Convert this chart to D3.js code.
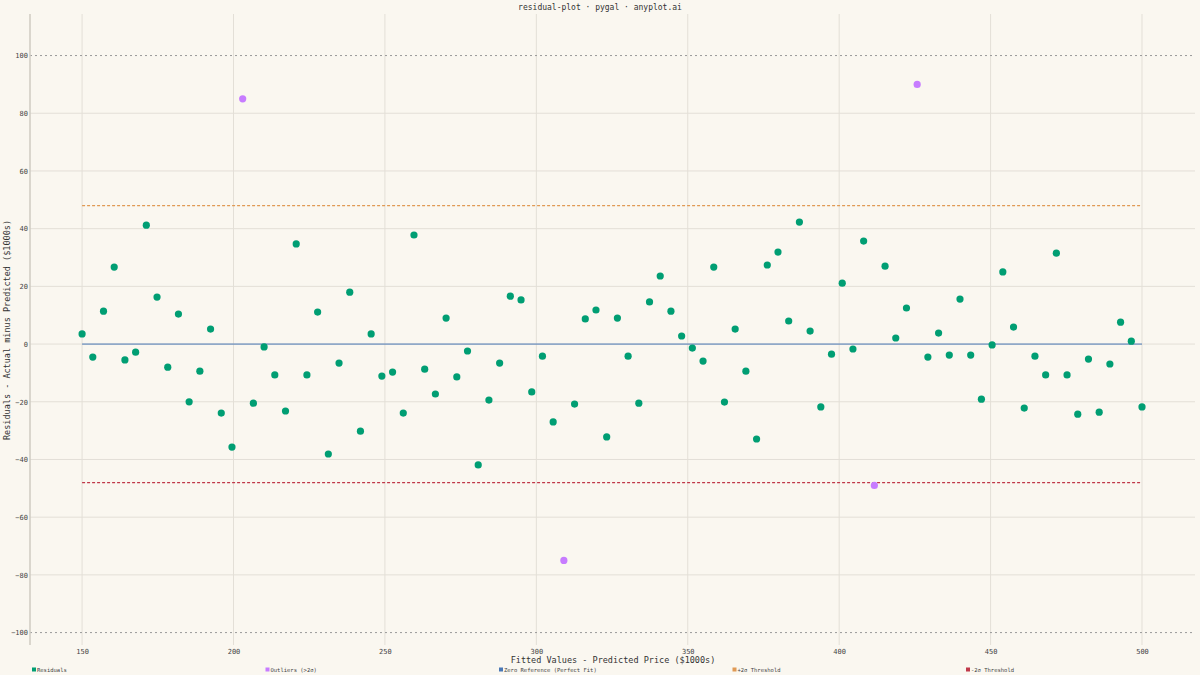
<!DOCTYPE html><html><head><meta charset="utf-8">
<script src="https://cdn.jsdelivr.net/npm/d3@7"></script>
<style>body{margin:0;background:#FAF7F0}text{font-family:"DejaVu Sans Mono",monospace}</style></head><body>
<svg id="c" width="1200" height="675"></svg>
<script>
const residuals=[3.5,-4.5,11.4,26.7,-5.5,-2.8,41.2,16.3,-8,10.4,-20,-9.4,5.2,-23.9,-35.7,null,-20.5,-1.0,-10.7,-23.2,
34.7,-10.7,11.1,-38.1,-6.6,18,-30.2,3.5,-11.1,-9.7,-23.9,37.8,-8.7,-17.3,9.0,-11.4,-2.4,-41.9,-19.4,-6.6,
16.6,15.3,-16.6,-4.2,-27,null,-20.8,8.7,11.8,-32.2,9.0,-4.2,-20.5,14.6,23.6,11.4,2.8,-1.4,-5.9,26.7,
-20.1,5.2,-9.4,-32.9,27.4,31.9,8.0,42.3,4.5,-21.8,-3.5,21.1,-1.7,35.7,null,27,2.1,12.5,null,-4.5,
3.8,-3.8,15.6,-3.8,-19.1,-0.3,25,5.9,-22.2,-4.2,-10.7,31.5,-10.7,-24.3,-5.2,-23.6,-6.9,7.6,1.0,-21.8];
const outlierIdx=[15,45,74,78];
const outlierVals=[85,-75,-49,90];
const fitStart=150, fitEnd=500;
const xTicks=[150,200,250,300,350,400,450,500];
const yTicks=[-100,-80,-60,-40,-20,0,20,40,60,80,100];
const sigma2=48;
const fitted=residuals.map((_,i)=>fitStart+i*(fitEnd-fitStart)/(residuals.length-1));

const svg=d3.select("#c");
const L=30,R=1195,T=14,B=645;
const x=d3.scaleLinear().domain([132.8,517.5]).range([L,R]);
const y=d3.scaleLinear().domain([-104.3,114.4]).range([B,T]);
svg.append("rect").attr("width",1200).attr("height",675).attr("fill","#FAF7F0");
const g=svg.append("g");
xTicks.forEach(t=>g.append("line").attr("x1",x(t)).attr("x2",x(t)).attr("y1",T).attr("y2",B).attr("stroke","#E3DFD7").attr("stroke-width",1));
yTicks.forEach(t=>{const ab=Math.abs(t)===100;g.append("line").attr("x1",L).attr("x2",R).attr("y1",y(t)).attr("y2",y(t))
 .attr("stroke",ab?"#999":"#E3DFD7").attr("stroke-width",1).attr("stroke-dasharray",ab?"2,3":null);});
g.append("line").attr("x1",L).attr("x2",L).attr("y1",T).attr("y2",B).attr("stroke","#CFCBC2").attr("stroke-width",1.5);
const xa=svg.append("g").attr("transform",`translate(0,${B})`).call(d3.axisBottom(x).tickValues(xTicks).tickSize(0).tickPadding(4));
xa.select(".domain").remove();
xa.selectAll("text").attr("font-size",7).attr("fill","#444").style("font-family","DejaVu Sans Mono");
const ya=svg.append("g").attr("transform",`translate(${L},0)`).call(d3.axisLeft(y).tickValues(yTicks).tickSize(0).tickPadding(2));
ya.select(".domain").remove();
ya.selectAll("text").attr("font-size",7).attr("fill","#444").style("font-family","DejaVu Sans Mono");
const x0=x(fitStart),x1=x(fitEnd);
g.append("line").attr("x1",x0).attr("x2",x1).attr("y1",y(0)).attr("y2",y(0)).attr("stroke","#4A78B5").attr("stroke-width",1);
g.append("line").attr("x1",x0).attr("x2",x1).attr("y1",y(sigma2)).attr("y2",y(sigma2)).attr("stroke","#E09A55").attr("stroke-width",1.2).attr("stroke-dasharray","3,2");
g.append("line").attr("x1",x0).attr("x2",x1).attr("y1",y(-sigma2)).attr("y2",y(-sigma2)).attr("stroke","#C0394A").attr("stroke-width",1.2).attr("stroke-dasharray","3,2");
residuals.forEach((v,i)=>{if(v===null)return;g.append("circle").attr("cx",x(fitted[i])).attr("cy",y(v)).attr("r",3.6).attr("fill","#009E73");});
outlierIdx.forEach((k,j)=>g.append("circle").attr("cx",x(fitted[k])).attr("cy",y(outlierVals[j])).attr("r",3.6).attr("fill","#C77CFF"));
svg.append("text").attr("x",600).attr("y",10).attr("text-anchor","middle").attr("font-size",8).attr("fill","#333").text("residual-plot · pygal · anyplot.ai");
svg.append("text").attr("x",613).attr("y",663).attr("text-anchor","middle").attr("font-size",8.5).attr("fill","#333").text("Fitted Values - Predicted Price ($1000s)");
svg.append("text").attr("transform","translate(10,330) rotate(-90)").attr("text-anchor","middle").attr("font-size",8.5).attr("fill","#333").text("Residuals - Actual minus Predicted ($1000s)");
const leg=[["Residuals","#009E73"],["Outliers (>2σ)","#C77CFF"],["Zero Reference (Perfect Fit)","#4A78B5"],["+2σ Threshold","#E09A55"],["-2σ Threshold","#C0394A"]];
leg.forEach((d,i)=>{const lx=32+i*233.5;svg.append("rect").attr("x",lx).attr("y",667.5).attr("width",4).attr("height",4).attr("fill",d[1]);
 svg.append("text").attr("x",lx+5).attr("y",671.5).attr("font-size",5.5).attr("fill","#444").text(d[0]);});
</script></body></html>
